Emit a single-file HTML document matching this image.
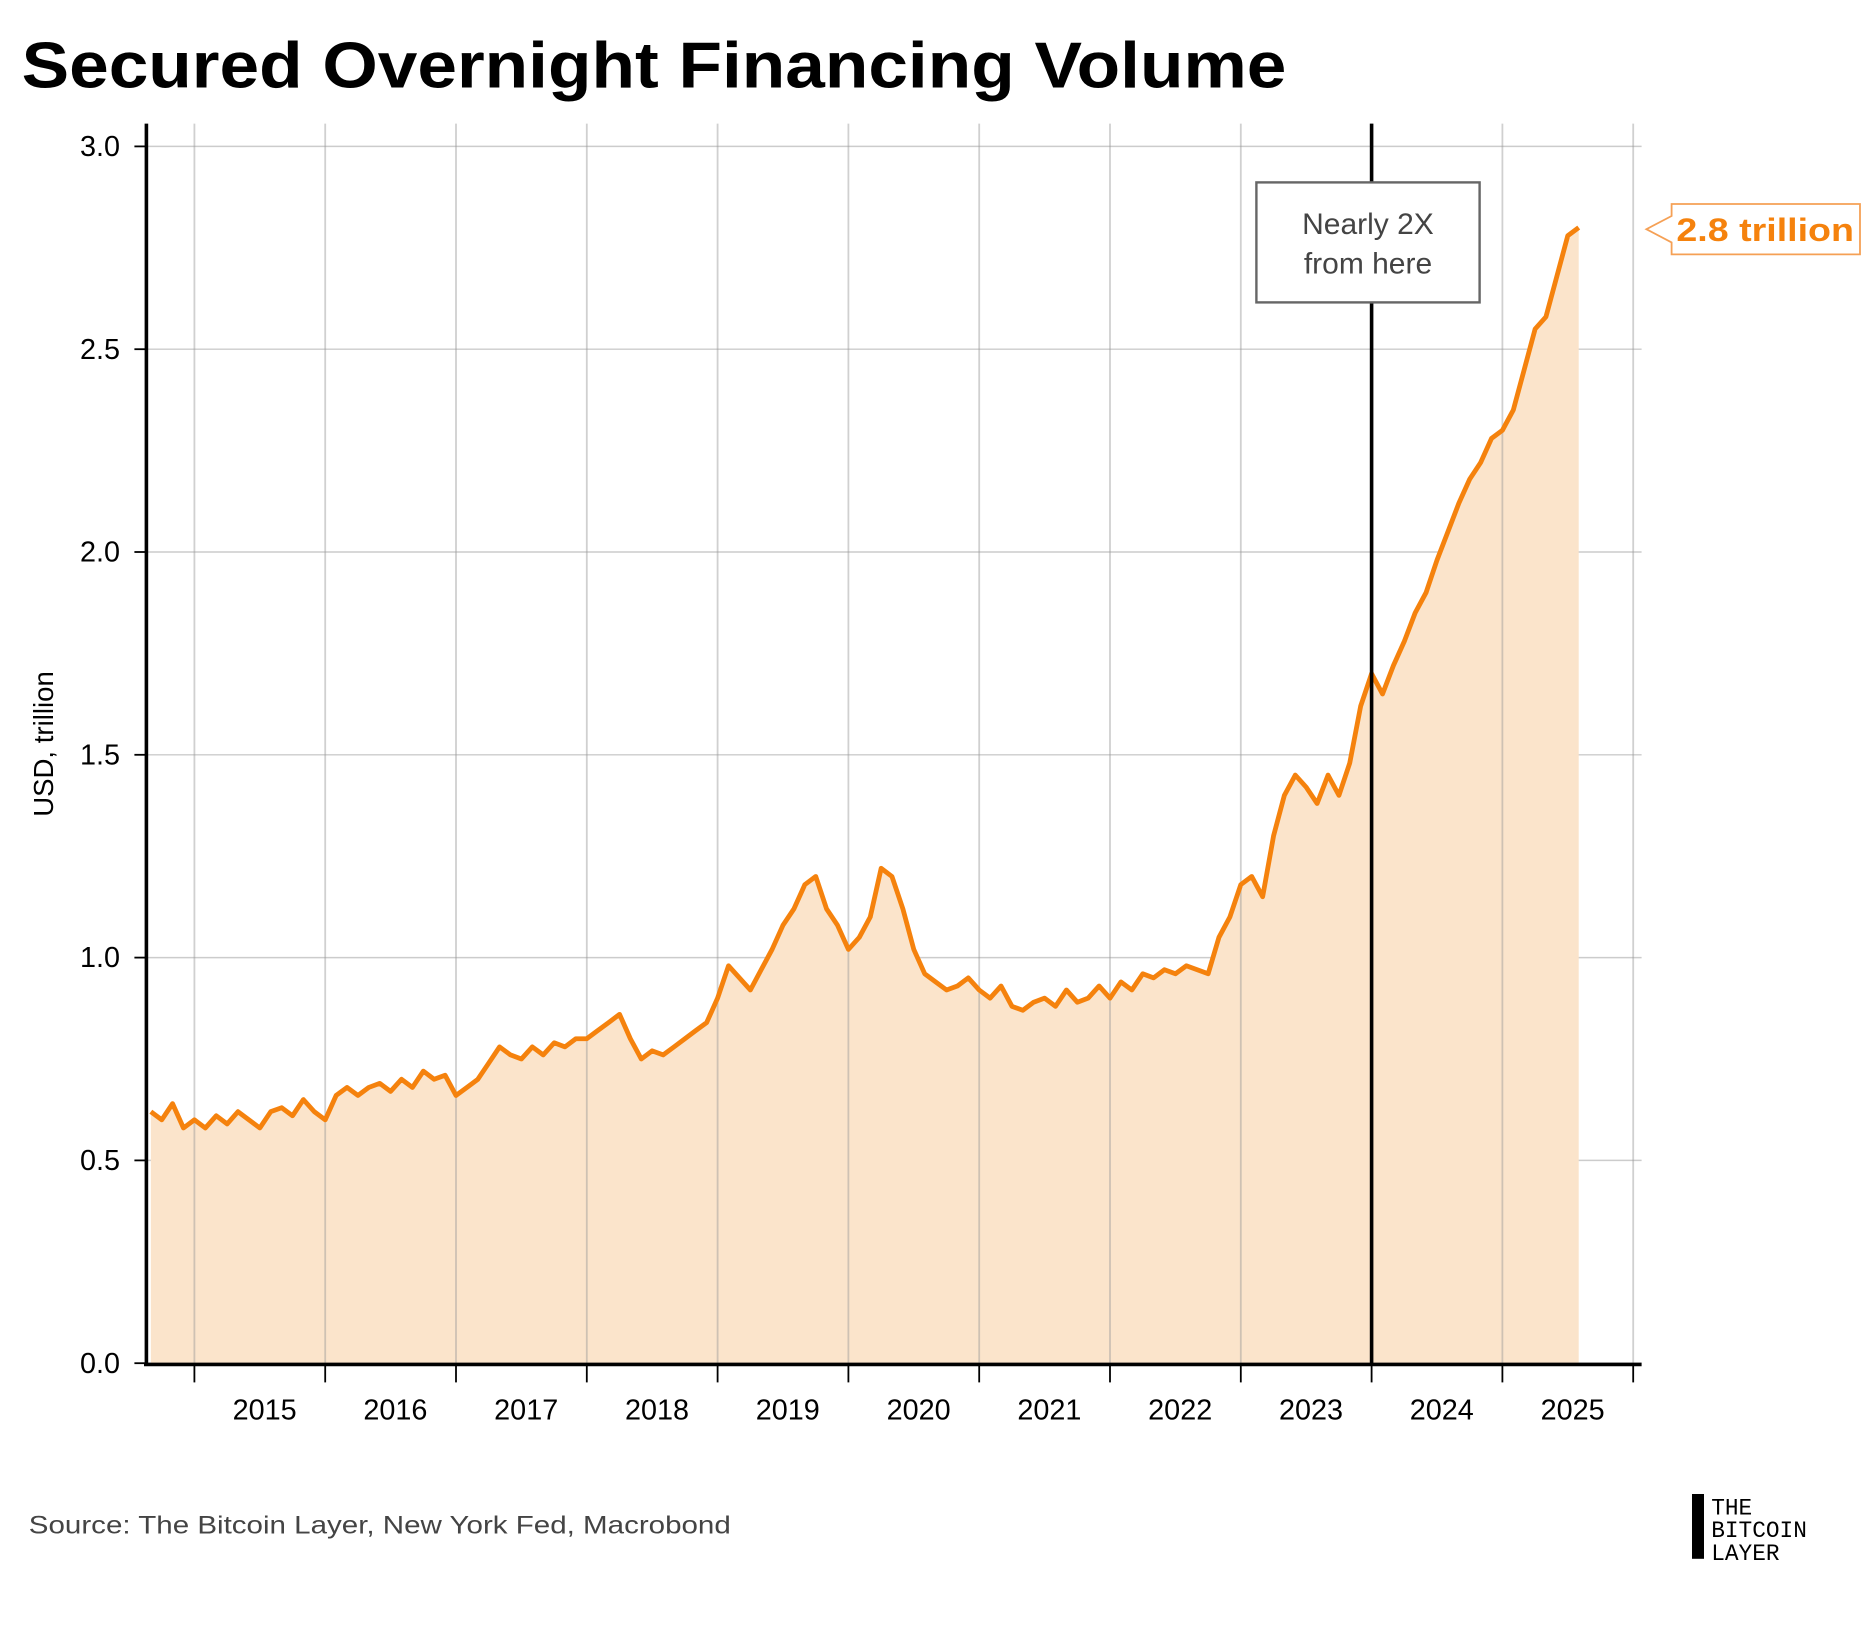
<!DOCTYPE html>
<html><head><meta charset="utf-8"><style>
html,body{margin:0;padding:0;background:#fff;}
svg{display:block;font-family:"Liberation Sans",sans-serif;}
</style></head><body>
<svg id="chart" width="1875" height="1625" viewBox="0 0 1562.5 1354.17" xmlns="http://www.w3.org/2000/svg">
<rect width="1562.5" height="1354.17" fill="#fff"/>
<text x="18" y="73" font-size="54" font-weight="bold" fill="#000" textLength="1054" lengthAdjust="spacingAndGlyphs">Secured Overnight Financing Volume</text>
<g id="grid"></g>
<path id="area" fill="#fbe4cb"/>
<g id="vgrid"></g>
<path id="line" fill="none" stroke="#f5820d" stroke-width="4" stroke-linejoin="round"/>
<line x1="122" y1="103" x2="122" y2="1138" stroke="#000" stroke-width="3"/>
<line x1="120" y1="1137" x2="1368" y2="1137" stroke="#000" stroke-width="3"/>
<line id="marker" x1="1144" y1="103" x2="1144" y2="1137" stroke="#000" stroke-width="3"/>
<g id="ticks"></g>
<text transform="translate(44,620) rotate(-90)" text-anchor="middle" font-size="23" fill="#000">USD, trillion</text>
<g>
<rect x="1047" y="152" width="186" height="100" fill="#fff" stroke="#666" stroke-width="2"/>
<text x="1140" y="195" text-anchor="middle" font-size="25" fill="#444">Nearly 2X</text>
<text x="1140" y="228" text-anchor="middle" font-size="25" fill="#444">from here</text>
</g>
<g>
<path d="M1393,170 L1550,170 L1550,212 L1393,212 L1393,202 L1372,191 L1393,180 Z" fill="#fff" stroke="#f5a055" stroke-width="1.5"/>
<text x="1471" y="201" text-anchor="middle" font-size="27" font-weight="bold" fill="#f5820d" textLength="148" lengthAdjust="spacingAndGlyphs">2.8 trillion</text>
</g>
<text x="24" y="1278" font-size="21" fill="#444" textLength="585" lengthAdjust="spacingAndGlyphs">Source: The Bitcoin Layer, New York Fed, Macrobond</text>
<g>
<rect x="1410" y="1245" width="10" height="54" fill="#000"/>
<text x="1426" y="1262" font-size="19" font-family="Liberation Mono, monospace" fill="#000">THE</text>
<text x="1426" y="1281" font-size="19" font-family="Liberation Mono, monospace" fill="#000">BITCOIN</text>
<text x="1426" y="1300" font-size="19" font-family="Liberation Mono, monospace" fill="#000">LAYER</text>
</g>
</svg>
<script>
const startYear = 2014 + 8/12;
const values = [
0.62,0.60,0.64,0.58,
0.60,0.58,0.61,0.59,0.62,0.60,0.58,0.62,0.63,0.61,0.65,0.62,
0.60,0.66,0.68,0.66,0.68,0.69,0.67,0.70,0.68,0.72,0.70,0.71,
0.66,0.68,0.70,0.74,0.78,0.76,0.75,0.78,0.76,0.79,0.78,0.80,
0.80,0.82,0.84,0.86,0.80,0.75,0.77,0.76,0.78,0.80,0.82,0.84,
0.90,0.98,0.95,0.92,0.97,1.02,1.08,1.12,1.18,1.20,1.12,1.08,
1.02,1.05,1.10,1.22,1.20,1.12,1.02,0.96,0.94,0.92,0.93,0.95,
0.92,0.90,0.93,0.88,0.87,0.89,0.90,0.88,0.92,0.89,0.90,0.93,
0.90,0.94,0.92,0.96,0.95,0.97,0.96,0.98,0.97,0.96,1.05,1.10,
1.18,1.20,1.15,1.30,1.40,1.45,1.42,1.38,1.45,1.40,1.48,1.62,
1.70,1.65,1.72,1.78,1.85,1.90,1.98,2.05,2.12,2.18,2.22,2.28,
2.30,2.35,2.45,2.55,2.58,2.68,2.78,2.80
];
const yTicks = [0.0,0.5,1.0,1.5,2.0,2.5,3.0];
const yTickLabels = ["0.0","0.5","1.0","1.5","2.0","2.5","3.0"];
const years = [2015,2016,2017,2018,2019,2020,2021,2022,2023,2024,2025];

const NS="http://www.w3.org/2000/svg";
function xs(t){return 162+(t-2015)*109.0;}
function ys(v){return 1136-v*338;}
function mk(tag,attrs,parent){const e=document.createElementNS(NS,tag);for(const k in attrs)e.setAttribute(k,attrs[k]);parent.appendChild(e);return e;}
const grid=document.getElementById('grid'),vgrid=document.getElementById('vgrid'),ticks=document.getElementById('ticks');
const m=document.getElementById('marker');m.setAttribute('x1',xs(2024));m.setAttribute('x2',xs(2024));
yTicks.forEach((v,i)=>{
  const l=mk('line',{x1:122,x2:1368,y1:ys(v),y2:ys(v),stroke:'#cccccc','stroke-width':1.2},grid);
  
  
  mk('line',{x1:112,x2:122,y1:ys(v),y2:ys(v),stroke:'#000','stroke-width':1.5},ticks);
  const t=mk('text',{x:100,y:ys(v)+8,'text-anchor':'end','font-size':24,fill:'#000'},ticks);
  t.textContent=yTickLabels[i];
  
  
});
years.concat([2026]).forEach(y=>{
  const x=xs(y);
  const l=mk('line',{x1:x,x2:x,y1:103,y2:1137,stroke:'rgba(150,150,150,0.45)','stroke-width':1.5},vgrid);
  
  
  mk('line',{x1:x,x2:x,y1:1137,y2:1152,stroke:'#000','stroke-width':1.5},ticks);
});
years.forEach(y=>{
  const t=mk('text',{x:xs(y+0.5)+4,y:1183,'text-anchor':'middle','font-size':24,fill:'#000'},ticks);
  t.textContent=String(y);
  
  
});
let d='';
values.forEach((v,i)=>{d+=(i?'L':'M')+xs(startYear+i/12).toFixed(1)+','+ys(v).toFixed(1);});
document.getElementById('line').setAttribute('d',d);
const lastX=xs(startYear+(values.length-1)/12);
document.getElementById('area').setAttribute('d',d+'L'+lastX.toFixed(1)+','+ys(0)+'L'+xs(startYear).toFixed(1)+','+ys(0)+'Z');
</script>
</body></html>
